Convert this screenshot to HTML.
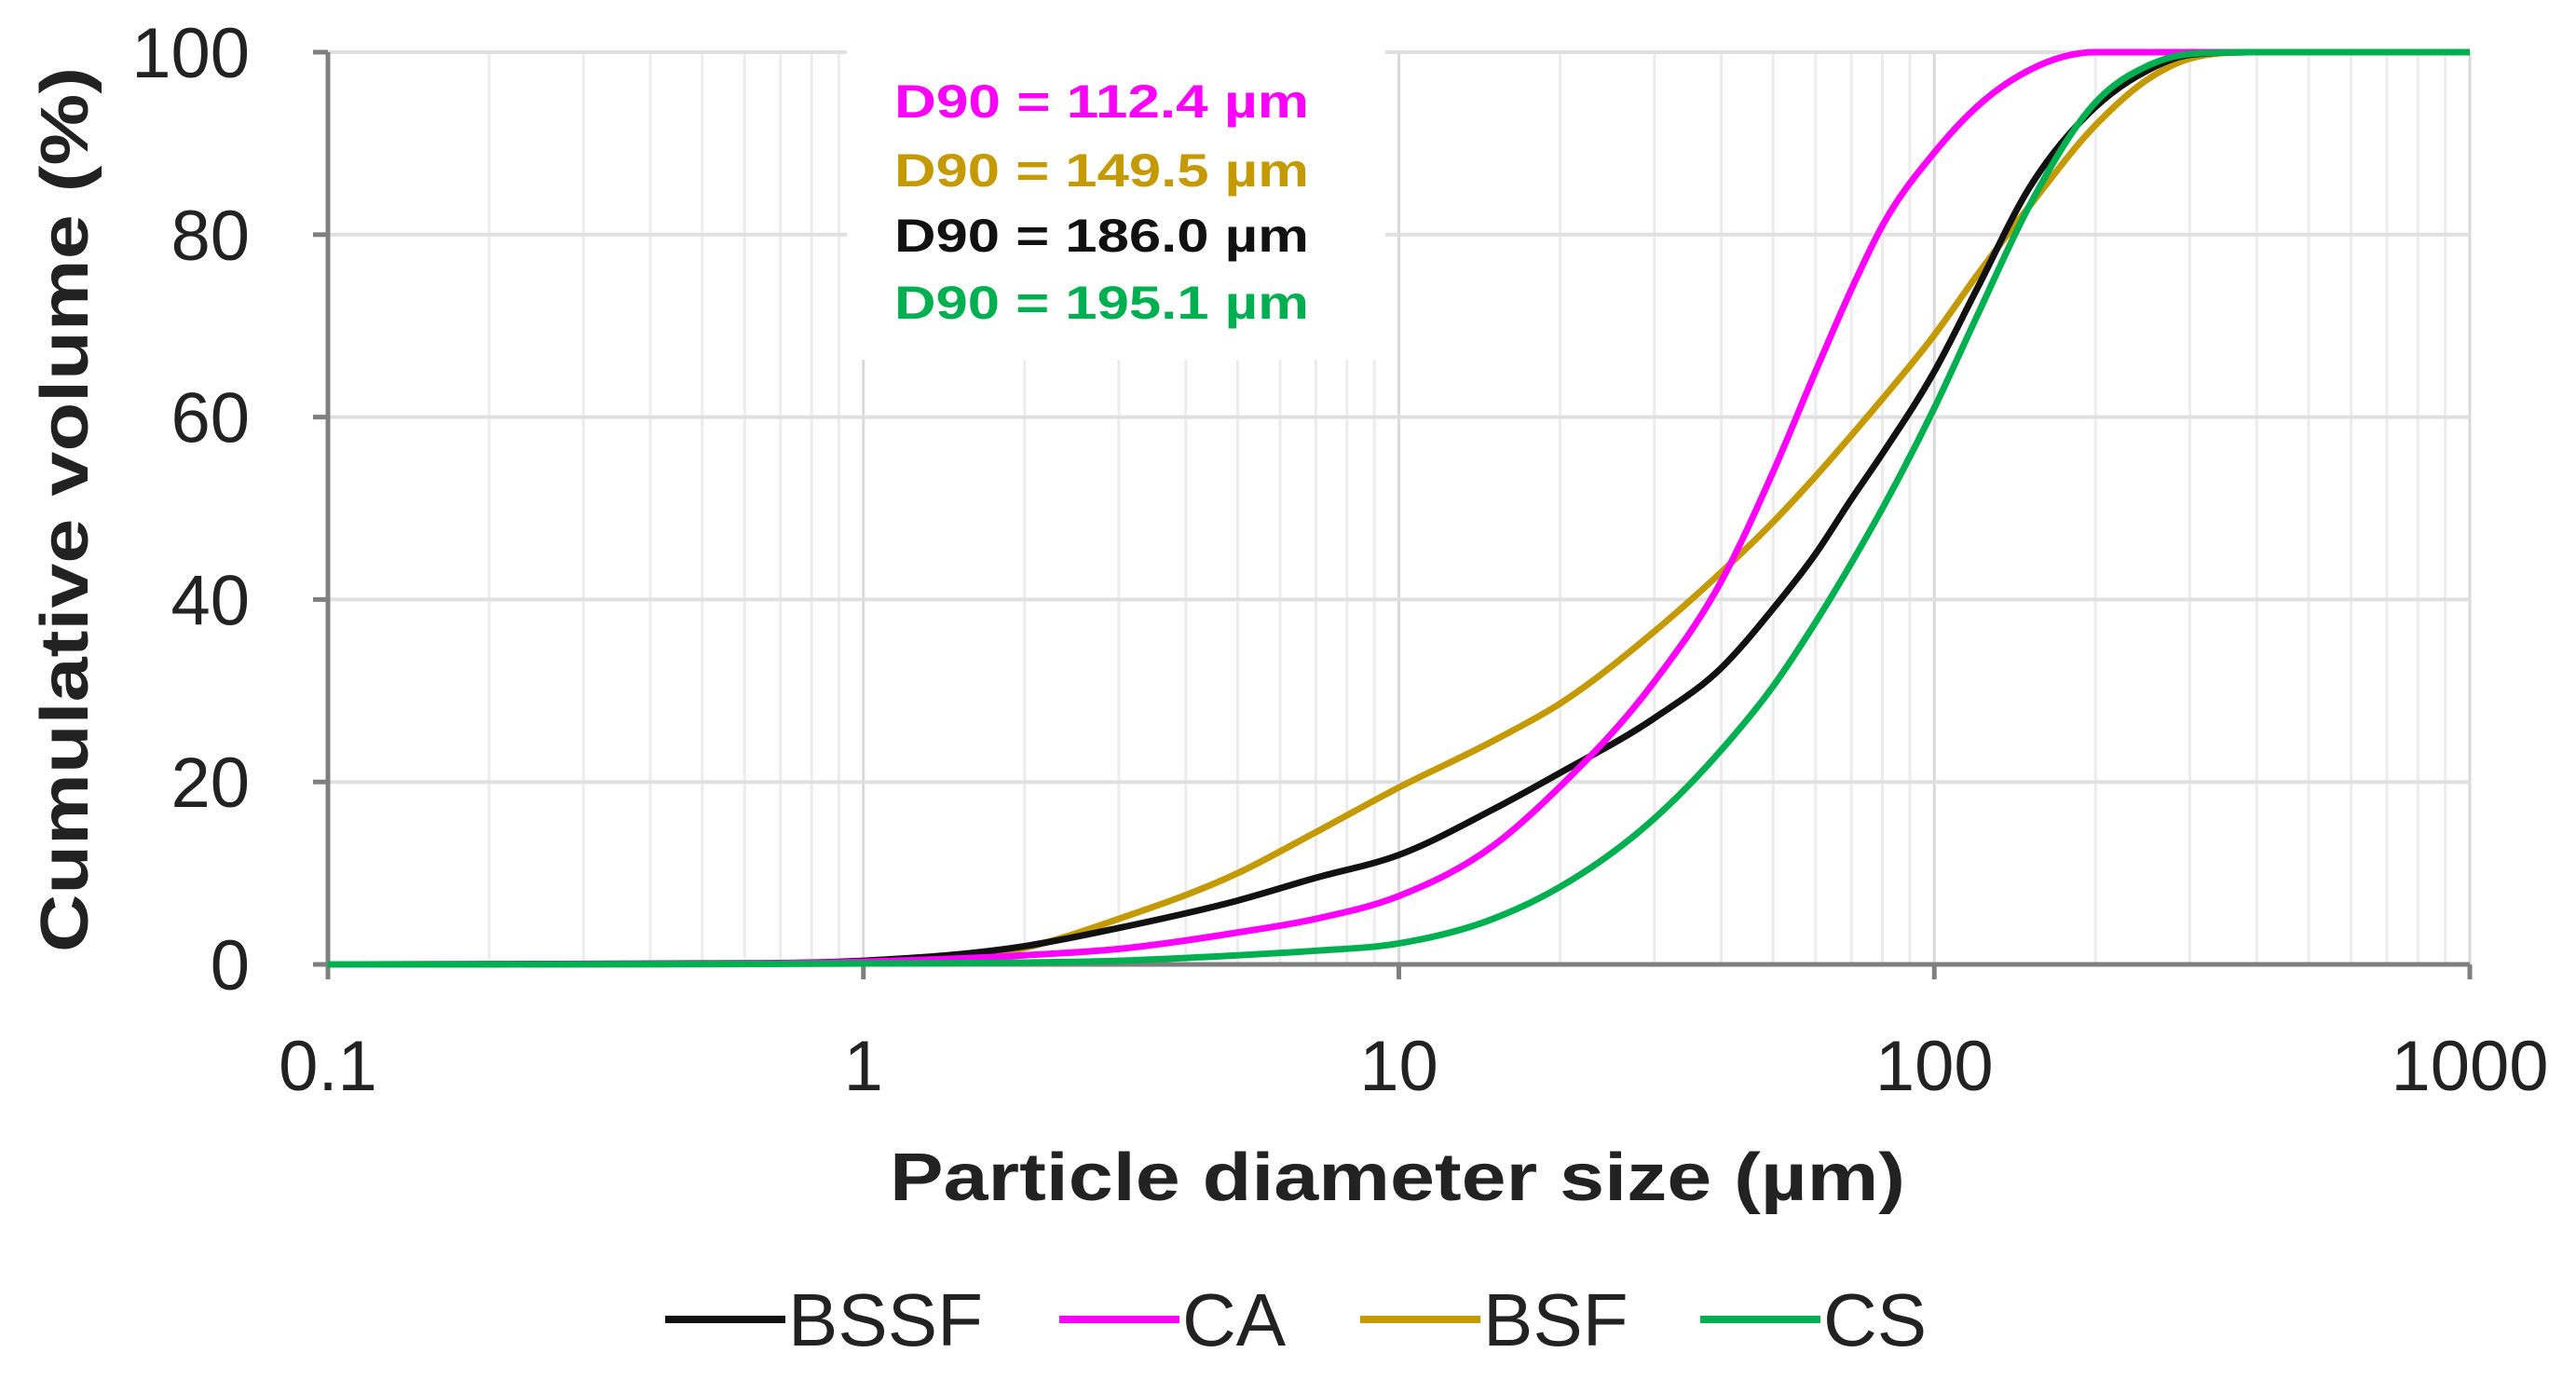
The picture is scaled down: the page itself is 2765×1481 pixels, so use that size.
<!DOCTYPE html>
<html><head><meta charset="utf-8"><style>
html,body{margin:0;padding:0;background:#fff}
svg{display:block;font-family:"Liberation Sans",Arial,sans-serif}
</style></head><body>
<svg id="chart" width="2765" height="1481" viewBox="0 0 2765 1481">
<g id="grid"></g>
<rect x="909" y="0" width="578" height="386" fill="#fff"/>
<g id="axes"></g>
<g id="series"></g>
<g font-weight="bold" font-size="50">
<text x="960" y="126" fill="#ff00ff" textLength="445" lengthAdjust="spacingAndGlyphs">D90 = 112.4 µm</text>
<text x="960" y="200" fill="#c49a00" textLength="445" lengthAdjust="spacingAndGlyphs">D90 = 149.5 µm</text>
<text x="960" y="270" fill="#111" textLength="445" lengthAdjust="spacingAndGlyphs">D90 = 186.0 µm</text>
<text x="960" y="342" fill="#00b050" textLength="445" lengthAdjust="spacingAndGlyphs">D90 = 195.1 µm</text>
</g>
<text x="1500" y="1288" text-anchor="middle" font-weight="bold" font-size="72" fill="#222" textLength="1090" lengthAdjust="spacingAndGlyphs">Particle diameter size (µm)</text>
<text transform="translate(94,547) rotate(-90)" text-anchor="middle" font-weight="bold" font-size="72" fill="#222" textLength="950" lengthAdjust="spacingAndGlyphs">Cumulative volume (%)</text>
<g id="legend" font-size="80" fill="#222"></g>
</svg>
<script>
const xTicks=[0.1,1,10,100,1000];
const xTickLabels=["0.1","1","10","100","1000"];
const yTicks=[0,20,40,60,80,100];
const seriesNames=["BSSF","CA","BSF","CS"];
const seriesColors=["#111111","#ff00ff","#c49a00","#00b050"];
const sizes=[0.1,0.5,1,2,3,5,7,10,15,20,30,40,50,60,70,80,100,120,150,200,250,300,400,1000];
const bssf=[0,0.1,0.4,2,4,7,9.5,12,17,21,27,32.5,39,45,51,56,65,74,85,94,98,99.7,100,100];
const ca=[0,0.05,0.3,1,1.7,3.5,5,7.5,13,19.5,31,42,54,65,74,81,89,94,98,100,100,100,100,100];
const bsf=[0,0.05,0.3,1.8,5,10,14.5,19.4,24.5,28.6,36.5,43,48.5,53.5,58,62,69,75.5,83,92,97,99.3,100,100];
const cs=[0,0.02,0.1,0.2,0.4,1,1.5,2.3,5,8.5,16,23.5,30.5,37.5,44,50,61,71,83,94.5,98.5,99.8,100,100];
const seriesValues=[bssf,ca,bsf,cs];

const X0=352,X1=2651,Y0=1035,Y1=56;
const NS="http://www.w3.org/2000/svg";
function sx(v){return X0+(Math.log10(v)+1)/4*(X1-X0);}
function sy(v){return Y0-v/100*(Y0-Y1);}
function mk(tag,attrs,parent){const e=document.createElementNS(NS,tag);for(const k in attrs)e.setAttribute(k,attrs[k]);parent.appendChild(e);return e;}
const grid=document.getElementById('grid'),axes=document.getElementById('axes'),ser=document.getElementById('series'),leg=document.getElementById('legend');
for(let d=0.1;d<1000;d*=10){for(let m=2;m<=9;m++){const x=sx(d*m);
const l=mk('line',{x1:x,x2:x,y1:Y1,y2:Y0,stroke:'#ececec','stroke-width':3},grid);

}}
xTicks.forEach(t=>{const x=sx(t);
const l=mk('line',{x1:x,x2:x,y1:Y1,y2:Y0,stroke:'#d9d9d9','stroke-width':3},grid);

});
yTicks.forEach(t=>{const y=sy(t);
const l=mk('line',{x1:X0,x2:X1,y1:y,y2:y,stroke:'#e0e0e0','stroke-width':4},grid);


const tk=mk('line',{x1:X0-16,x2:X0,y1:y,y2:y,stroke:'#7f7f7f','stroke-width':5},axes);


const tx=mk('text',{x:268,y:y+27,'text-anchor':'end','font-size':76,fill:'#222'},axes);


tx.textContent=t;});
xTicks.forEach((t,i)=>{const x=sx(t);
const tk=mk('line',{x1:x,x2:x,y1:Y0,y2:Y0+16,stroke:'#7f7f7f','stroke-width':5},axes);


const tx=mk('text',{x:x,y:1170,'text-anchor':'middle','font-size':76,fill:'#222'},axes);


tx.textContent=xTickLabels[i];});
const ay=mk('line',{x1:X0,x2:X0,y1:Y1,y2:Y0,stroke:'#7f7f7f','stroke-width':5},axes);


const ax=mk('line',{x1:X0,x2:X1,y1:Y0,y2:Y0,stroke:'#7f7f7f','stroke-width':5},axes);


function smoothPath(pts){
 const n=pts.length,dx=[],m=[],t=[];
 for(let i=0;i<n-1;i++){dx.push(pts[i+1][0]-pts[i][0]);m.push((pts[i+1][1]-pts[i][1])/dx[i]);}
 t[0]=m[0];t[n-1]=m[n-2];
 for(let i=1;i<n-1;i++){t[i]=(m[i-1]*m[i]<=0)?0:(m[i-1]*dx[i]+m[i]*dx[i-1])/(dx[i]+dx[i-1]);}
 for(let i=0;i<n-1;i++){if(m[i]===0){t[i]=0;t[i+1]=0;continue;}const a=t[i]/m[i],b=t[i+1]/m[i],s=a*a+b*b;if(s>9){const k=3/Math.sqrt(s);t[i]=k*a*m[i];t[i+1]=k*b*m[i];}}
 let d='M'+pts[0][0]+','+pts[0][1];
 for(let i=0;i<n-1;i++){const h=dx[i]/3;d+=' C'+(pts[i][0]+h)+','+(pts[i][1]+t[i]*h)+' '+(pts[i+1][0]-h)+','+(pts[i+1][1]-t[i+1]*h)+' '+pts[i+1][0]+','+pts[i+1][1];}
 return d;}
const order=[2,0,1,3];
order.forEach(si=>{const pts=sizes.map((s,i)=>[sx(s),sy(seriesValues[si][i])]);
const p=mk('path',{d:smoothPath(pts),fill:'none',stroke:seriesColors[si],'stroke-width':7,'stroke-linejoin':'round'},ser);

});
const legX=[[714,846],[1137,1269],[1460,1592],[1825,1957]];
seriesNames.forEach((n,i)=>{
const l=mk('line',{x1:legX[i][0],x2:legX[i][0]+129,y1:1416,y2:1416,stroke:seriesColors[i],'stroke-width':8},leg);


const tx=mk('text',{x:legX[i][1],y:1444,fill:'#222'},leg);


tx.textContent=n;});
</script>
</body></html>
